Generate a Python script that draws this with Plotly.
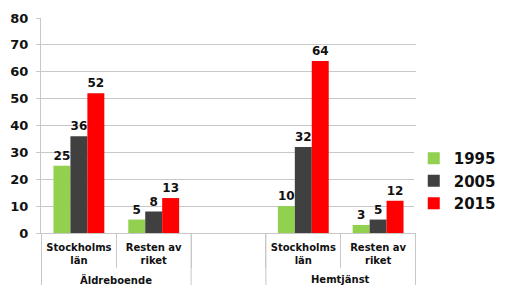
import plotly.graph_objects as go

groups = ["Äldreboende", "Äldreboende", "", "Hemtjänst", "Hemtjänst"]
regions = ["Stockholms<br>län", "Resten av<br>riket", "", "Stockholms<br>län", "Resten av<br>riket"]
years = ["1995", "2005", "2015"]
v1995 = [25, 5, None, 10, 3]
v2005 = [36, 8, None, 32, 5]
v2015 = [52, 13, None, 64, 12]
colors = ["#92d050", "#404040", "#ff0000"]

keys = [f"{g}|{i}|{r}" for i, (g, r) in enumerate(zip(groups, regions))]

fig = go.Figure()
for name, vals, col in zip(years, [v1995, v2005, v2015], colors):
    fig.add_trace(go.Bar(
        x=keys, y=vals, name=name, marker=dict(color=col, line=dict(width=0)),
        text=[("" if v is None else str(v)) for v in vals],
        textposition="outside", constraintext="none", cliponaxis=False,
        textfont=dict(family="DejaVu Sans", size=12, color="#111111", weight="bold"),
    ))

GRID = "#c8c8c8"
fig.update_layout(
    width=499, height=277,
    margin=dict(l=33, r=91, t=10, b=52, autoexpand=False),
    paper_bgcolor="white", plot_bgcolor="white",
    barmode="group", bargap=0.32, bargroupgap=0,
    font=dict(family="DejaVu Sans", color="#111111"),
    legend=dict(x=0.994, y=0.242, xanchor="left", yanchor="middle",
                font=dict(size=15, weight="bold"), tracegroupgap=0,
                itemwidth=30),
    showlegend=True,
)
fig.update_yaxes(range=[0, 80], dtick=10, showgrid=True, gridcolor=GRID, gridwidth=1,
                 showline=True, linecolor=GRID, ticks="outside", ticklen=4, tickcolor=GRID,
                 tickfont=dict(size=13, weight="bold"), zeroline=False, ticklabelstandoff=5,
                 automargin=False)
fig.update_xaxes(type="category", tickvals=keys, ticktext=regions,
                 tickson="boundaries", ticks="outside", ticklen=34, tickcolor=GRID,
                 showline=True, linecolor=GRID, showgrid=False, ticklabelstandoff=5,
                 tickfont=dict(size=10, weight="bold"), tickangle=0, automargin=False)

# group labels and long dividers
seen = []
for g in groups:
    if g and g not in seen:
        seen.append(g)
for g in seen:
    idx = [i for i, gg in enumerate(groups) if gg == g]
    c = (idx[0] + idx[-1]) / 2
    fig.add_annotation(x=c, y=-0.215, xref="x", yref="paper", text=g, showarrow=False,
                       yanchor="middle", font=dict(size=10, weight="bold"))
    for edge in (idx[0] - 0.5, idx[-1] + 0.5):
        fig.add_shape(type="line", xref="x", yref="paper", x0=edge, x1=edge, y0=0, y1=-0.245,
                      line=dict(color=GRID, width=1), layer="above")

fig.write_html("out.html")
